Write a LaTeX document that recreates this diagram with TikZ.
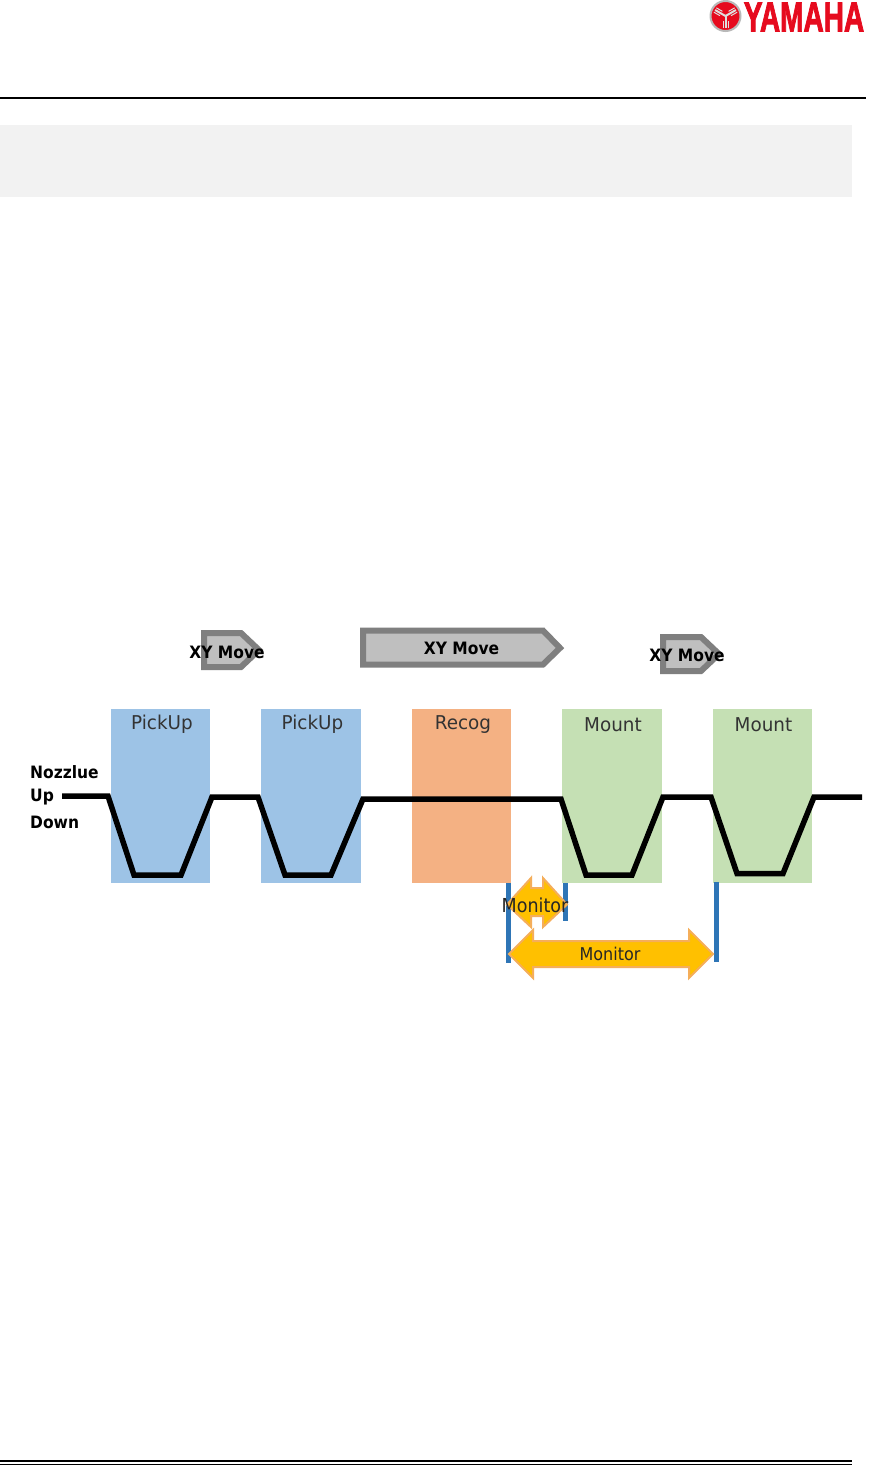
\documentclass[tikz,border=0pt]{standalone}
\usepackage{fontspec}
\setmainfont{DejaVu Sans}
\newfontfamily\logofont[FakeBold=2.5]{Liberation Sans Bold}
\definecolor{blueblk}{HTML}{9DC3E6}
\definecolor{orangeblk}{HTML}{F4B183}
\definecolor{greenblk}{HTML}{C5E0B4}
\definecolor{goldfill}{HTML}{FFC000}
\definecolor{goldedge}{HTML}{F5AE5A}
\definecolor{tickblue}{HTML}{2E75B6}
\definecolor{bandgray}{HTML}{F2F2F2}
\definecolor{movefill}{HTML}{BFBFBF}
\definecolor{moveedge}{HTML}{7F7F7F}
\definecolor{logored}{HTML}{E60B1E}
\tikzset{
  phase/.style={minimum width=99.5pt,minimum height=174pt,inner sep=0pt,anchor=north west},
  phaselabel/.style={inner sep=0pt,xscale=1.08,yscale=1.12,font=\fontsize{17}{18}\selectfont,text=black!80},
  movearrow/.style={draw=moveedge,fill=movefill,line width=6pt,miter limit=10},
  movelabel/.style={inner sep=0pt,yscale=1.1,font=\bfseries\fontsize{15.5}{17}\selectfont},
  nozzle/.style={line width=5.5pt,line join=miter,black},
  tickmark/.style={draw=tickblue,line width=5pt},
  monarrow/.style={draw=goldedge,fill=goldfill,line width=2pt},
  monlabel/.style={inner sep=0pt,yscale=1.1,text=black!85},
  nozlabel/.style={inner sep=0pt,anchor=west,yscale=1.1,font=\bfseries\fontsize{15.5}{17}\selectfont}
}
\begin{document}
\begin{tikzpicture}[x=1pt,y=-1pt]
\useasboundingbox (0,0) rectangle (869,1465);
\fill[white] (0,0) rectangle (869,1465);
% header
\draw[line width=2pt] (0,98) -- (866,98);
\fill[bandgray] (0,125) rectangle (852,196.5);
% footer
\draw[line width=1.3pt] (0,1461) -- (852,1461);
\draw[line width=1.3pt] (0,1464.4) -- (852,1464.4);
% logo
\fill[logored] (725.5,16) circle (15pt);
\draw[gray!55,line width=2pt] (725.5,16) circle (15pt);
\foreach \a in {90,210,330}{
  \draw[white!75!gray,line width=2pt] (725.5,16) -- ++(\a:-12pt);
  \draw[white!75!gray,line width=1pt] (725.5,16) ++(\a:-12pt) ++(\a+90:2.5pt) -- ++(\a:7pt);
  \draw[white!75!gray,line width=1pt] (725.5,16) ++(\a:-12pt) ++(\a-90:2.5pt) -- ++(\a:7pt);
}
\node[inner sep=0pt,text=logored] (logo) at (804,17)
  {\scalebox{1.12}[1.68]{\logofont\fontsize{25}{25}\selectfont YAMAHA}};
% phases
\node[phase,fill=blueblk] (p1) at (110.5,709) {};
\node[phase,fill=blueblk] (p2) at (261,709) {};
\node[phase,fill=orangeblk] (r1) at (411.5,709) {};
\node[phase,fill=greenblk] (m1) at (562,709) {};
\node[phase,fill=greenblk] (m2) at (712.5,709) {};
\node[phaselabel] at (162,724.5) {PickUp};
\node[phaselabel] at (312.5,724.5) {PickUp};
\node[phaselabel] at (463,724.5) {Recog};
\node[phaselabel] at (613,725) {Mount};
\node[phaselabel] at (763.5,725) {Mount};
% nozzle curve
\draw[nozzle] (62,796) -- (108,796) -- (134,875) -- (181,875) -- (212,797) -- (258,797)
  -- (285,875) -- (331,875) -- (363,799) -- (561,799) -- (586,875) -- (632,875)
  -- (663,797) -- (711,797) -- (737,873.5) -- (783,873.5) -- (814,797) -- (862,797);
% move arrows
\draw[movearrow] (204,633) -- (241,633) -- (259,650) -- (241,667) -- (204,667) -- cycle;
\draw[movearrow] (363,630.5) -- (543,630.5) -- (560,648) -- (543,664.5) -- (363,664.5) -- cycle;
\draw[movearrow] (663,637) -- (701,637) -- (719,654) -- (701,671) -- (663,671) -- cycle;
\node[movelabel] at (227,652) {XY Move};
\node[movelabel] at (461.5,648) {XY Move};
\node[movelabel] at (687,655) {XY Move};
% ticks
\coordinate (t1a) at (508,883); \coordinate (t1b) at (508,963);
\coordinate (t2a) at (565,883); \coordinate (t2b) at (565,921);
\coordinate (t3a) at (716,882); \coordinate (t3b) at (716,962);
\draw[tickmark] (t1a) -- (t1b);
\draw[tickmark] (t2a) -- (t2b);
\draw[tickmark] (t3a) -- (t3b);
% monitor arrows
\draw[monarrow] (507,904.5) -- (531,878) -- (531,888) -- (543,888) -- (543,878) -- (567,904.5)
  -- (543,927) -- (543,916) -- (531,916) -- (531,927) -- cycle;
\draw[monarrow] (509,954) -- (533,930) -- (533,941) -- (689,941) -- (689,930) -- (713,954)
  -- (689,978) -- (689,967) -- (533,967) -- (533,978) -- cycle;
\node[monlabel,font=\fontsize{17.5}{19}\selectfont] at (535,905) {Monitor};
\node[monlabel,font=\fontsize{16}{18}\selectfont] at (610,954) {Monitor};
% nozzle labels
\node[nozlabel] at (30,772) {Nozzlue};
\node[nozlabel] at (30,797) {Up};
\node[nozlabel] at (30,822) {Down};
\end{tikzpicture}
\end{document}
